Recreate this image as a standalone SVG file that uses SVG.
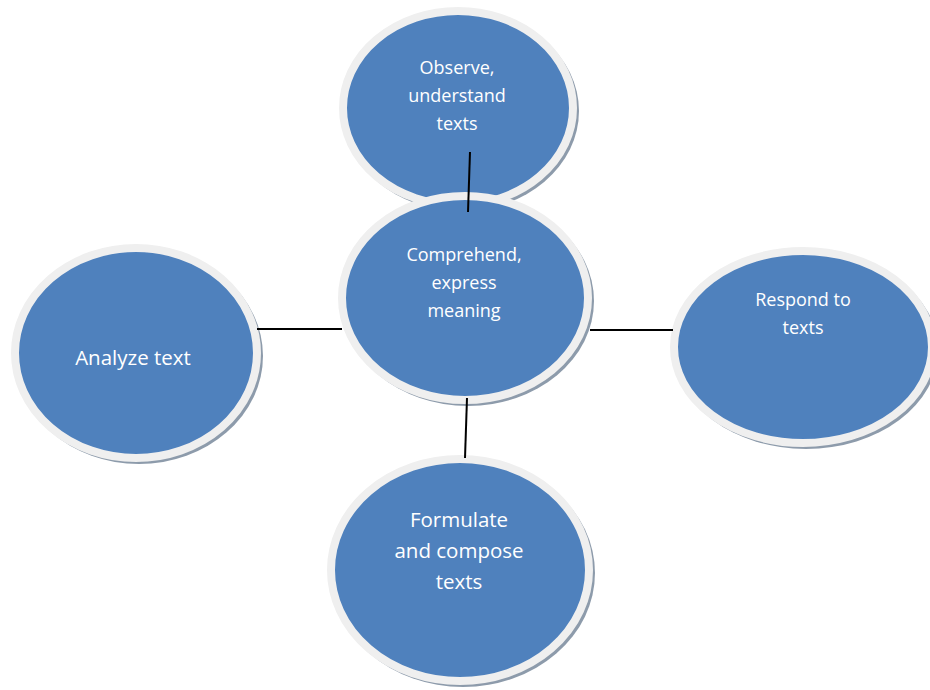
<svg xmlns="http://www.w3.org/2000/svg" width="930" height="690" viewBox="0 0 930 690">
<defs>
<style>
.sh{fill:#8d9bab}
.el{fill:#4f81bd;stroke:#efefef;stroke-width:8}
.t{font-family:"Open Sans","Liberation Sans",sans-serif;fill:#ffffff;text-anchor:middle}
.s{font-size:18px}
.b{font-size:20.5px}
.c{stroke:#000;stroke-width:2;fill:none}
</style>
</defs>
<rect width="930" height="690" fill="#ffffff"/>
<g id="node-observe">
<ellipse class="sh" cx="461" cy="111" rx="118" ry="100"/>
<ellipse class="el" cx="458" cy="108" rx="115" ry="97"/>
<text class="t s" x="457" y="74">Observe,</text>
<text class="t s" x="457" y="102">understand</text>
<text class="t s" x="457" y="130">texts</text>
</g>
<g id="node-comprehend">
<ellipse class="sh" cx="468" cy="301" rx="126" ry="105"/>
<ellipse class="el" cx="465" cy="298" rx="123" ry="102"/>
<text class="t s" x="464" y="261">Comprehend,</text>
<text class="t s" x="464" y="289">express</text>
<text class="t s" x="464" y="317">meaning</text>
</g>
<g id="node-analyze">
<ellipse class="sh" cx="139" cy="356" rx="124" ry="108"/>
<ellipse class="el" cx="136" cy="353" rx="121" ry="105"/>
<text class="t b" x="133" y="365">Analyze text</text>
</g>
<g id="node-respond">
<ellipse class="sh" cx="806" cy="350" rx="132" ry="99"/>
<ellipse class="el" cx="803" cy="347" rx="129" ry="96"/>
<text class="t s" x="803" y="306">Respond to</text>
<text class="t s" x="803" y="334">texts</text>
</g>
<g id="node-formulate">
<ellipse class="sh" cx="463" cy="573" rx="132" ry="114"/>
<ellipse class="el" cx="460" cy="570" rx="129" ry="111"/>
<text class="t b" x="459" y="527">Formulate</text>
<text class="t b" x="459" y="558">and compose</text>
<text class="t b" x="459" y="589">texts</text>
</g>
<g id="connectors">
<line class="c" x1="470" y1="152" x2="468" y2="212"/>
<line class="c" x1="257" y1="329" x2="342" y2="329"/>
<line class="c" x1="590" y1="330" x2="673" y2="330"/>
<line class="c" x1="467" y1="398" x2="465" y2="458"/>
</g>
</svg>
